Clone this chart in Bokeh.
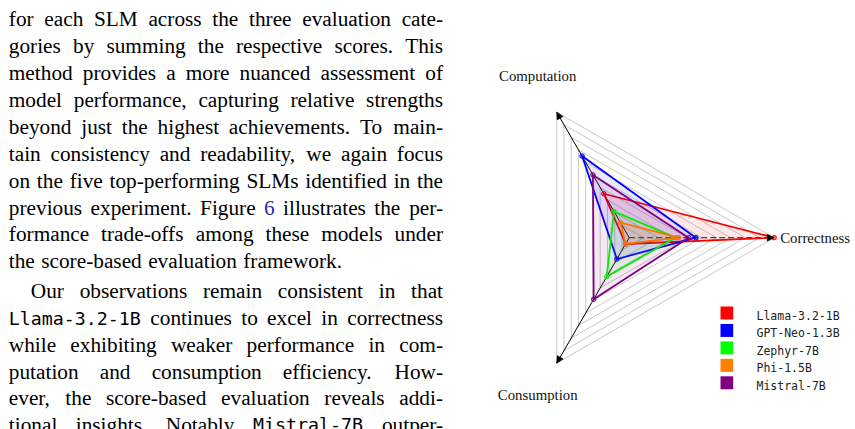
import math
from bokeh.plotting import figure
from bokeh.models import Range1d, ColumnDataSource, Arrow, NormalHead
from bokeh.core.properties import value
from bokeh.embed import file_html
from bokeh.resources import INLINE

# ---------------- data ----------------
axis_labels = ["Correctness", "Computation", "Consumption"]
models = ["Llama-3.2-1B", "GPT-Neo-1.3B", "Zephyr-7B", "Phi-1.5B", "Mistral-7B"]
correctness = [1.00, 0.46, 0.32, 0.34, 0.41]
computation = [0.35, 0.65, 0.21, 0.12, 0.50]
consumption = [0.05, 0.17, 0.31, 0.05, 0.49]
colors = ["#ff0000", "#0000ff", "#00ff00", "#ff8000", "#800080"]
grid_levels = [0.1, 0.2, 0.3, 0.4, 0.5, 0.6, 0.7, 0.8, 0.9, 1.0]

para1 = [
    "for each SLM across the three evaluation cate-",
    "gories by summing the respective scores. This",
    "method provides a more nuanced assessment of",
    "model performance, capturing relative strengths",
    "beyond just the highest achievements. To main-",
    "tain consistency and readability, we again focus",
    "on the five top-performing SLMs identified in the",
    "previous experiment. Figure {6} illustrates the per-",
    "formance trade-offs among these models under",
    "the score-based evaluation framework.",
]
para2 = [
    "Our observations remain consistent in that",
    "`Llama-3.2-1B` continues to excel in correctness",
    "while exhibiting weaker performance in com-",
    "putation and consumption efficiency. How-",
    "ever, the score-based evaluation reveals addi-",
    "tional insights. Notably `Mistral-7B` outper-",
]

# ---------------- figure (page has no margin: screen px == data units) ----------------
W, H = 855, 429
p = figure(width=W, height=H, x_range=Range1d(0, W), y_range=Range1d(H, 0),
           output_backend="svg", toolbar_location=None, min_border=0,
           x_axis_location=None, y_axis_location=None)
p.grid.visible = False
p.outline_line_color = None
p.background_fill_color = "white"
p.border_fill_color = "white"

TSHIFT = 4.8  # baseline correction for svg text rendering

# ---------------- body text (justified) ----------------
SERIF = "Liberation Serif"
MONO = "DejaVu Sans Mono"
FS = 21.3
MFS = 18.3
TX0, TX1 = 8.3, 442.5
TNR = {' ': 250, ',': 250, '.': 250, '-': 333,
       'a': 444, 'b': 500, 'c': 444, 'd': 500, 'e': 444, 'f': 333, 'g': 500, 'h': 500,
       'i': 278, 'j': 278, 'k': 500, 'l': 278, 'm': 778, 'n': 500, 'o': 500, 'p': 500,
       'q': 500, 'r': 333, 's': 389, 't': 278, 'u': 500, 'v': 500, 'w': 722, 'x': 500,
       'y': 500, 'z': 444, 'S': 556, 'L': 611, 'M': 889, 'T': 611, 'F': 556, 'O': 722,
       'H': 722, 'N': 722, 'C': 667}

groups = {}


def add_word(key, x, y, t):
    g = groups.setdefault(key, {"x": [], "y": [], "text": []})
    g["x"].append(x)
    g["y"].append(y)
    g["text"].append(t)


def layout_para(lines, y0, lead, indent, ends):
    for j, line in enumerate(lines):
        y = y0 + j * lead - TSHIFT
        toks = []
        for w in line.split():
            if w.startswith("`"):
                t = w.strip("`")
                toks.append(("mono", t, len(t) * 0.602 * MFS))
            elif w.startswith("{"):
                t = w.strip("{}")
                toks.append(("link", t, sum(TNR.get(c, 500) for c in t) * FS / 1000))
            else:
                toks.append(("serif", w, sum(TNR.get(c, 500) for c in w) * FS / 1000))
        left = TX0 + (indent if j == 0 else 0)
        justify = not (ends and j == len(lines) - 1)
        total = sum(t[2] for t in toks)
        gap = (TX1 - left - total) / (len(toks) - 1) if justify else 0.3 * FS
        x = left
        for i, (kind, t, w) in enumerate(toks):
            if justify and i == len(toks) - 1:
                add_word((kind, "right"), TX1, y, t)
            else:
                add_word((kind, "left"), x, y, t)
            x += w + gap


layout_para(para1, 23.5, 26.9, 0, True)
layout_para(para2, 295.7, 26.7, 22, False)

for (kind, align), g in groups.items():
    font = MONO if kind == "mono" else SERIF
    size = MFS if kind == "mono" else FS
    col = "#2a2aaa" if kind == "link" else "#000000"
    p.text(x="x", y="y", text="text", source=ColumnDataSource(g),
           text_font=value(font), text_font_size=value(f"{size}px"),
           text_color=col, text_align=align, text_baseline="alphabetic")

# ---------------- radar chart ----------------
CX, CY, R = 628.7, 237.2, 145.0
ANG = [0.0, 120.0, 240.0]


def polar(v, k):
    th = math.radians(ANG[k])
    return CX + v * R * math.cos(th), CY - v * R * math.sin(th)


gx, gy = [], []
for lv in grid_levels:
    pts = [polar(lv, k) for k in (0, 1, 2, 0)]
    gx.append([q[0] for q in pts])
    gy.append([q[1] for q in pts])
p.multi_line(gx, gy, line_color="#c8c8c8", line_width=1)

# axes lines
tips = [polar(1.0, k) for k in range(3)]
p.segment(x0=[CX], y0=[CY], x1=[tips[0][0]], y1=[tips[0][1]],
          line_color="#444444", line_width=1.3, line_dash="6 3")
p.segment(x0=[CX, CX], y0=[CY, CY], x1=[tips[1][0], tips[2][0]], y1=[tips[1][1], tips[2][1]],
          line_color="black", line_width=1)

series = list(zip(correctness, computation, consumption))
for name, vals, c in zip(models, series, colors):
    pts = [polar(vals[k], k) for k in range(3)]
    xs = [q[0] for q in pts]
    ys = [q[1] for q in pts]
    p.patch(xs, ys, fill_color=c, fill_alpha=0.09, line_color=c, line_width=1.8)
    p.scatter(xs, ys, size=4.5, marker="circle", fill_color=c, fill_alpha=0.5,
              line_color=c, line_width=1)

for k in range(3):
    sx, sy = polar(0.9, k)
    p.add_layout(Arrow(end=NormalHead(size=7, fill_color="black", line_color="black", line_width=0.5),
                       x_start=sx, y_start=sy, x_end=tips[k][0], y_end=tips[k][1],
                       line_alpha=0.0))

# axis labels
LFS = "14.8px"
p.text(x=[tips[0][0] + 6], y=[CY + 5 - TSHIFT], text=[axis_labels[0]], text_font=value(SERIF),
       text_font_size=value(LFS), text_align="left", text_baseline="alphabetic", text_color="#111111")
p.text(x=[tips[1][0] - 19, tips[2][0] - 19], y=[tips[1][1] - 31 - TSHIFT, tips[2][1] + 37 - TSHIFT],
       text=[axis_labels[1], axis_labels[2]], text_font=value(SERIF),
       text_font_size=value(LFS), text_align="center", text_baseline="alphabetic", text_color="#111111")

# legend
LX, LY0, LSTEP = 720.0, 312.5, 17.45
ly = [LY0 + i * LSTEP for i in range(len(models))]
p.rect(x=[LX + 6.35] * len(models), y=ly, width=12.7, height=13, fill_color=colors, line_color=None)
p.text(x=[LX + 36] * len(models), y=[v + 7.5 - TSHIFT for v in ly], text=models, text_font=value(MONO),
       text_font_size=value("11.5px"), text_align="left", text_baseline="alphabetic", text_color="#222222")

open("out.html", "w").write(file_html(p, INLINE))
